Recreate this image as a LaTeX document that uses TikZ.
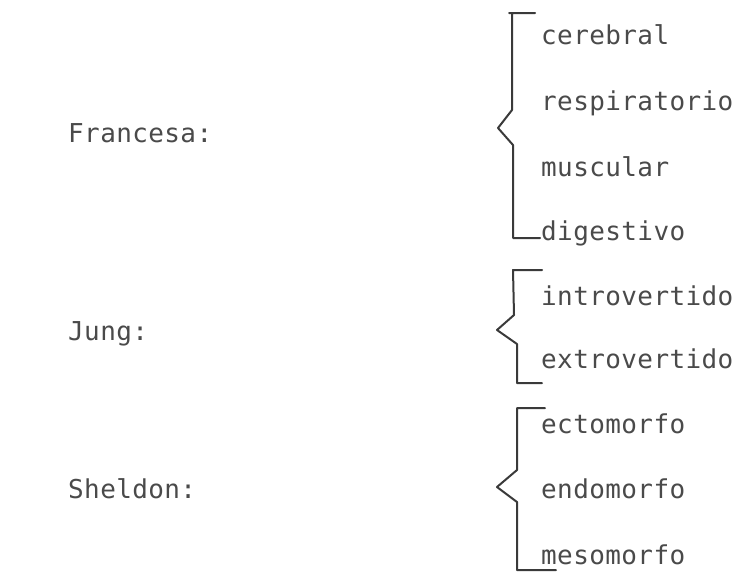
\documentclass[tikz,border=0pt]{standalone}
\usepackage{fontspec}
\setmonofont[LetterSpace=1.5]{DejaVu Sans Mono}
\definecolor{ink}{HTML}{4A4A4A}
\definecolor{bracketink}{HTML}{3A3A3A}
\tikzset{
  lbl/.style={anchor=base west, inner sep=0pt, text=ink, font=\ttfamily\fontsize{26}{31}\selectfont},
  brk/.style={draw=bracketink, line width=2pt, line join=round, line cap=round}
}
\begin{document}
\begin{tikzpicture}[x=1pt,y=-1pt]
\useasboundingbox (0,0) rectangle (735,574);
% left labels
\node[lbl] (fr) at (68,142) {Francesa:};
\node[lbl] (ju) at (68,340) {Jung:};
\node[lbl] (sh) at (68,498) {Sheldon:};
% Francesa items
\node[lbl] (f1) at (541,44) {cerebral};
\node[lbl] (f2) at (541,110) {respiratorio};
\node[lbl] (f3) at (541,176) {muscular};
\node[lbl] (f4) at (541,240) {digestivo};
% Jung items
\node[lbl] (j1) at (541,305) {introvertido};
\node[lbl] (j2) at (541,368) {extrovertido};
% Sheldon items
\node[lbl] (s1) at (541,433) {ectomorfo};
\node[lbl] (s2) at (541,498) {endomorfo};
\node[lbl] (s3) at (541,564) {mesomorfo};
% brackets
\draw[brk] (535,13) -- (509,13) (512,13) -- (512,110) -- (498,128) -- (513,145) -- (513,238) -- (540,238);
\draw[brk] (542,270) -- (513,270) -- (514,315) -- (497,330) -- (517,344) -- (517,383) -- (542,383);
\draw[brk] (545,408) -- (517,408) -- (517,470) -- (497,487) -- (517,502) -- (517,570) -- (556,570);
\end{tikzpicture}
\end{document}
